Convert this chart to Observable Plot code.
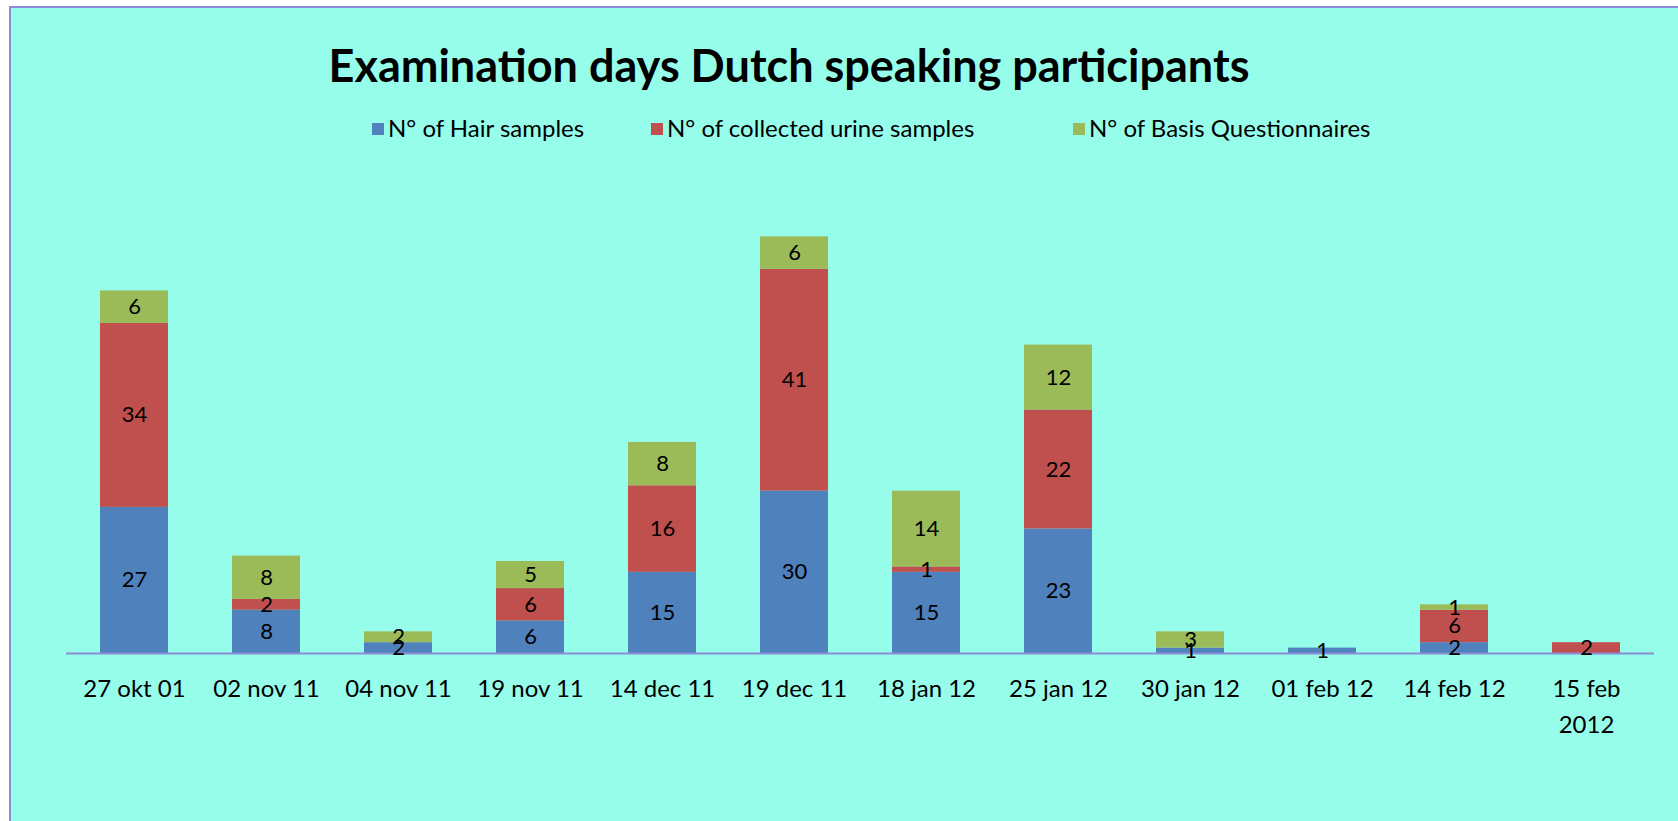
<!DOCTYPE html>
<html>
<head>
<meta charset="utf-8">
<script src="https://cdn.jsdelivr.net/npm/d3@7"></script>
<script src="https://cdn.jsdelivr.net/npm/@observablehq/plot@0.6"></script>
<style>
  html, body { margin: 0; padding: 0; background: #ffffff; }
  #page { position: relative; width: 1678px; height: 821px; overflow: hidden; font-family: Lato, "Open Sans", sans-serif; }
  #panel { position: absolute; left: 9px; top: 6px; right: 0; bottom: 0; background: #96FDEB;
           border-left: 2px solid #8C8CD6; border-top: 2px solid #8C8CD6; }
  #title { position: absolute; left: 0; width: 1578px; top: 43px; text-align: center;
           font-weight: 700; font-size: 45px; line-height: 1; color: #000; }
  .leg { position: absolute; top: 116px; font-size: 24px; line-height: 1; color: #000; white-space: nowrap; }
  .sw { position: absolute; width: 12px; height: 12px; top: 123px; }
  #chart { position: absolute; left: 0; top: 150px; }
</style>
</head>
<body>
<div id="page">
  <div id="panel"></div>
  <div id="title">Examination days Dutch speaking participants</div>
  <div id="legend"></div>
  <div id="chart"></div>
</div>
<script>
const dates = ["27 okt 01","02 nov 11","04 nov 11","19 nov 11","14 dec 11","19 dec 11","18 jan 12","25 jan 12","30 jan 12","01 feb 12","14 feb 12","15 feb\n2012"];
const seriesNames = ["N° of Hair samples","N° of collected urine samples","N° of Basis Questionnaires"];
const seriesColors = ["#4F81BD","#C0504D","#9BBB59"];
const hair  = [27, 8, 2, 6, 15, 30, 15, 23, 1, 1, 2, 0];
const urine = [34, 2, 0, 6, 16, 41,  1, 22, 0, 0, 6, 2];
const basis = [ 6, 8, 2, 5,  8,  6, 14, 12, 3, 0, 1, 0];

const seriesValues = [hair, urine, basis];
const data = [];
dates.forEach((d, i) => {
  seriesNames.forEach((s, j) => {
    data.push({date: d, series: s, value: seriesValues[j][i]});
  });
});

// legend
const legendPos = [[372, 388], [651, 667], [1073, 1089]];
const legend = document.getElementById("legend");
seriesNames.forEach((s, j) => {
  const sw = document.createElement("div");
  sw.className = "sw";
  sw.style.left = legendPos[j][0] + "px";
  sw.style.background = seriesColors[j];
  legend.appendChild(sw);
  const t = document.createElement("div");
  t.className = "leg";
  t.style.left = legendPos[j][1] + "px";
  t.textContent = s;
  legend.appendChild(t);
});

const chart = Plot.plot({
  width: 1678,
  height: 671,
  marginLeft: 66,
  marginRight: 24,
  marginTop: 16,
  marginBottom: 168,
  style: { background: "transparent", fontFamily: "Lato, 'Open Sans', sans-serif", color: "#000", overflow: "visible" },
  x: { domain: dates, paddingInner: 0.486, paddingOuter: 0.243, axis: null },
  y: { domain: [0, 90], axis: null },
  color: { domain: seriesNames, range: seriesColors },
  marks: [
    Plot.barY(data, { x: "date", y: "value", fill: "series", order: null }),
    Plot.ruleY([0], { stroke: "#8C8CD6", strokeWidth: 2 }),
    Plot.text(data.filter(d => d.value > 0), Plot.stackY({
      x: "date", y: "value", z: "series", order: null,
      text: d => String(d.value), fontSize: 22, fill: "#000"
    })),
    Plot.axisX({ tickSize: 0, tickPadding: 18, fontSize: 24, lineHeight: 1.5, fill: "#000", label: null })
  ]
});
document.getElementById("chart").appendChild(chart);
</script>
</body>
</html>
